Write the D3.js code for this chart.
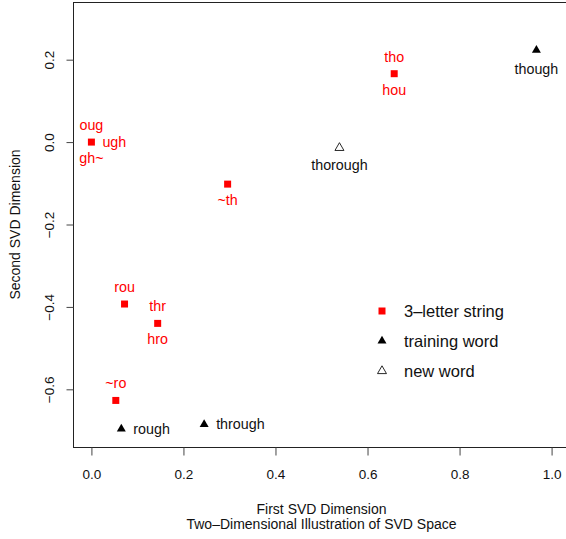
<!DOCTYPE html>
<html lang="en">
    <head>
        <meta charset="utf-8">
        <title>SVD Space</title>
        <script src="https://d3js.org/d3.v7.min.js"></script>
        <style type="text/css">
            body { margin: 0; background: #fff; }
            text { font-family: "Liberation Sans", Arial, Helvetica, sans-serif; }
        </style>
    </head>
    <body>
        <script>
            // data
            var strX = [0.000, 0.296, 0.072, 0.144, 0.053, 0.658];
            var strY = [0.000, -0.102, -0.393, -0.440, -0.627, 0.166];
            var strAbove = ["oug", "", "rou", "thr", "~ro", "tho"];
            var strBelow = ["gh~", "~th", "", "hro", "", "hou"];
            var strRight = ["ugh", "", "", "", "", ""];

            var trainWords = ["rough", "through", "though"];
            var trainX = [0.065, 0.245, 0.967];
            var trainY = [-0.696, -0.685, 0.223];

            var newWords = ["thorough"];
            var newX = [0.539];
            var newY = [-0.014];

            var xTicks = [0, 0.2, 0.4, 0.6, 0.8, 1.0];
            var yTicks = [-0.6, -0.4, -0.2, 0.0, 0.2];
            var legendLabels = ["3\u2013letter string", "training word", "new word"];

            // configuration code
            var outerWidth = 566;
            var outerHeight = 539;
            var plot = { left: 73, top: 2, right: 570, bottom: 447 };
            var red = "#ff0000";

            var svg = d3.select("body")
                        .append("svg")
                        .attr("width", outerWidth)
                        .attr("height", outerHeight);

            var xScale = d3.scaleLinear().domain([-0.04, 1.04]).range([plot.left, plot.right]);
            var yScale = d3.scaleLinear().domain([-0.74, 0.34]).range([plot.bottom, plot.top]);
            var fmt = d3.format(".1f");

            // box
            svg.append("rect")
                .attr("x", plot.left + 0.5)
                .attr("y", plot.top + 0.5)
                .attr("width", plot.right - plot.left)
                .attr("height", plot.bottom - plot.top)
                .attr("fill", "none")
                .attr("stroke", "#222")
                .attr("stroke-width", 1);

            // x axis
            var xAxis = svg.append("g")
                .attr("transform", "translate(0," + (plot.bottom + 0.5) + ")")
                .call(d3.axisBottom(xScale).tickValues(xTicks).tickSize(8).tickFormat(fmt));
            xAxis.select(".domain").remove();
            xAxis.selectAll("line").attr("stroke", "#444");
            xAxis.selectAll("text")
                .attr("y", 31)
                .attr("dy", null)
                .attr("fill", "#111")
                .style("font-size", "13.5px")
                .style("font-family", "'Liberation Sans', Arial, sans-serif");

            // y axis
            var yAxis = svg.append("g")
                .attr("transform", "translate(" + (plot.left + 0.5) + ",0)")
                .call(d3.axisLeft(yScale).tickValues(yTicks).tickSize(7).tickFormat(fmt));
            yAxis.select(".domain").remove();
            yAxis.selectAll("line").attr("stroke", "#444");
            yAxis.selectAll("text")
                .attr("x", null)
                .attr("dy", null)
                .attr("text-anchor", "middle")
                .attr("transform", "translate(-20,0) rotate(-90)")
                .attr("fill", "#111")
                .style("font-size", "13.5px")
                .style("font-family", "'Liberation Sans', Arial, sans-serif");

            // axis titles
            var cx = (plot.left + plot.right) / 2;
            svg.append("text").attr("x", cx).attr("y", 514)
                .attr("text-anchor", "middle").style("font-size", "14px").attr("fill", "#111")
                .text("First SVD Dimension");
            svg.append("text").attr("x", cx).attr("y", 529)
                .attr("text-anchor", "middle").style("font-size", "14px").attr("fill", "#111")
                .text("Two\u2013Dimensional Illustration of SVD Space");
            svg.append("text")
                .attr("transform", "translate(20," + ((plot.top + plot.bottom) / 2) + ") rotate(-90)")
                .attr("text-anchor", "middle").style("font-size", "14px").attr("fill", "#111")
                .text("Second SVD Dimension");

            var square = d3.symbol().type(d3.symbolSquare).size(49);
            var tri = d3.symbol().type(d3.symbolTriangle).size(35);

            // 3-letter strings
            var strings = strX.map(function (d, i) {
                return { x: strX[i], y: strY[i], above: strAbove[i], below: strBelow[i], right: strRight[i] };
            });
            var sg = svg.append("g");
            sg.selectAll("path").data(strings).enter().append("path")
                .attr("d", square)
                .attr("transform", function (d) { return "translate(" + xScale(d.x) + "," + yScale(d.y) + ")"; })
                .attr("fill", red);

            function addLabels(g, data, key, dx, dy, anchor, color) {
                g.selectAll("text." + key).data(data.filter(function (d) { return d[key]; }))
                    .enter().append("text")
                    .attr("class", key)
                    .attr("x", function (d) { return xScale(d.x) + dx; })
                    .attr("y", function (d) { return yScale(d.y) + dy; })
                    .attr("text-anchor", anchor)
                    .attr("fill", color)
                    .style("font-size", "14.3px")
                    .text(function (d) { return d[key]; });
            }
            addLabels(sg, strings, "above", 0, -12, "middle", red);
            addLabels(sg, strings, "below", 0, 21, "middle", red);
            addLabels(sg, strings, "right", 11, 5, "start", red);

            // training words
            var train = trainX.map(function (d, i) {
                return { x: trainX[i], y: trainY[i], word: trainWords[i] };
            });
            var tg = svg.append("g");
            tg.selectAll("path").data(train).enter().append("path")
                .attr("d", tri)
                .attr("transform", function (d) { return "translate(" + xScale(d.x) + "," + yScale(d.y) + ")"; })
                .attr("fill", "#000");
            train.forEach(function (d) {
                d.right = d.x < 0.5 ? d.word : "";
                d.below = d.x >= 0.5 ? d.word : "";
            });
            addLabels(tg, train, "right", 12, 5, "start", "#111");
            addLabels(tg, train, "below", 0, 24, "middle", "#111");

            // new words
            var nw = newX.map(function (d, i) {
                return { x: newX[i], y: newY[i], below: newWords[i] };
            });
            var ng = svg.append("g");
            ng.selectAll("path").data(nw).enter().append("path")
                .attr("d", tri)
                .attr("transform", function (d) { return "translate(" + xScale(d.x) + "," + yScale(d.y) + ")"; })
                .attr("fill", "#fff")
                .attr("stroke", "#111")
                .attr("stroke-width", 0.9);
            addLabels(ng, nw, "below", 0, 22, "middle", "#111");

            // legend
            var legendSym = [
                { sym: square, fill: red, stroke: "none" },
                { sym: tri, fill: "#000", stroke: "none" },
                { sym: tri, fill: "#fff", stroke: "#111" }
            ];
            var lg = svg.append("g").attr("transform", "translate(382,311)");
            var rows = lg.selectAll("g").data(legendLabels).enter().append("g")
                .attr("transform", function (d, i) { return "translate(0," + (i * 30) + ")"; });
            rows.append("path")
                .attr("d", function (d, i) { return legendSym[i].sym(); })
                .attr("fill", function (d, i) { return legendSym[i].fill; })
                .attr("stroke", function (d, i) { return legendSym[i].stroke; })
                .attr("stroke-width", 0.9);
            rows.append("text")
                .attr("x", 22)
                .attr("y", 6)
                .attr("fill", "#111")
                .style("font-size", "16.5px")
                .text(function (d) { return d; });
        </script>
    </body>
</html>
